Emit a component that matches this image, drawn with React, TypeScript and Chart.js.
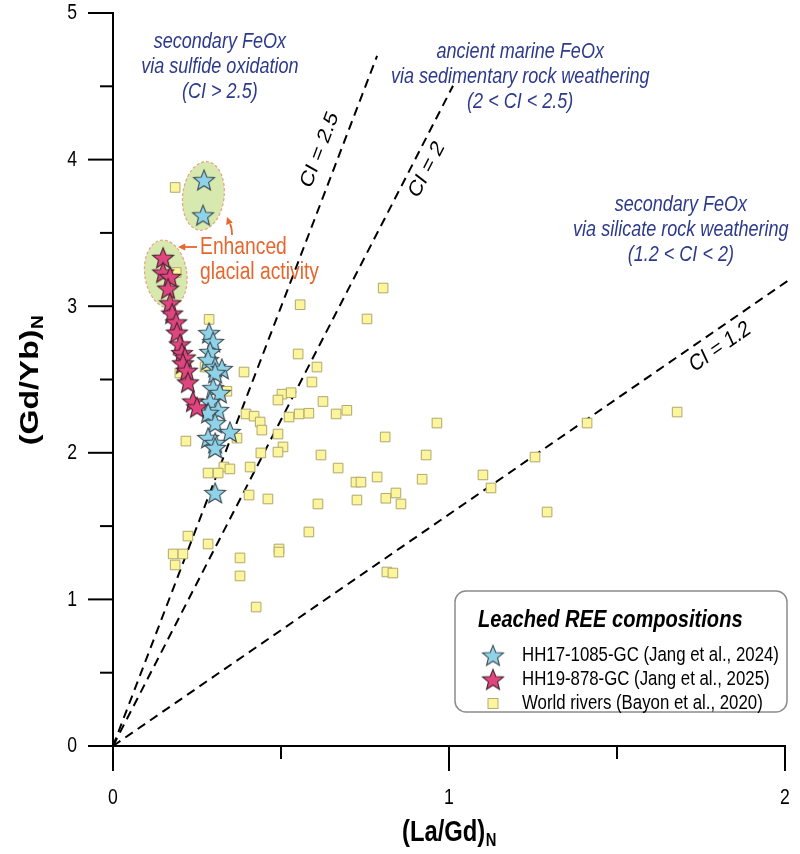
import React, { useEffect, useRef } from 'react';
import { Chart, registerables } from 'chart.js';

Chart.register(...registerables);

// ---------- data ----------
const hh17LaGd = [0.271, 0.268, 0.286, 0.298, 0.289, 0.283, 0.304, 0.324, 0.304, 0.298, 0.318, 0.289, 0.313, 0.283, 0.304, 0.348, 0.283, 0.304, 0.304, 0.304];
const hh17GdYb = [3.86, 3.62, 2.817, 2.756, 2.688, 2.633, 2.585, 2.572, 2.544, 2.442, 2.408, 2.347, 2.292, 2.272, 2.203, 2.142, 2.101, 2.067, 2.033, 1.726];

const hh19LaGd = [0.149, 0.149, 0.170, 0.164, 0.170, 0.176, 0.188, 0.190, 0.199, 0.205, 0.214, 0.208, 0.220, 0.223, 0.238, 0.250];
const hh19GdYb = [3.33, 3.23, 3.20, 3.12, 3.02, 2.95, 2.89, 2.82, 2.74, 2.68, 2.65, 2.61, 2.56, 2.48, 2.35, 2.31];

const riversLaGd = [
  0.185, 0.188, 0.557, 0.286, 0.551, 0.607, 0.390, 0.592, 0.199, 0.274,
  0.339, 0.503, 0.530, 0.491, 0.625, 0.396, 0.420, 0.524, 0.554, 0.583,
  0.664, 0.696, 0.438, 0.443, 0.491, 0.217, 0.369, 0.440, 0.506, 0.491,
  0.619, 0.330, 0.348, 0.408, 0.670, 0.283, 0.313, 0.723, 0.405, 0.461,
  0.610, 0.726, 0.223, 0.283, 0.179, 0.208, 0.185, 0.378, 0.378, 0.494,
  0.494, 0.583, 0.426, 0.804, 0.756, 0.964, 0.810, 1.411, 0.932, 0.738,
  0.786, 0.920, 0.842, 0.812, 0.857, 1.101, 1.125, 1.256, 1.292, 0.815,
  0.833, 1.679,
];
const riversGdYb = [
  3.81, 3.23, 3.01, 2.91, 2.674, 2.585, 2.551, 2.483, 2.544, 2.585,
  2.42, 2.40, 2.41, 2.36, 2.35, 2.265, 2.25, 2.244, 2.265, 2.27,
  2.265, 2.29, 2.21, 2.155, 2.128, 2.08, 2.10, 1.999, 2.04, 2.005,
  1.985, 1.903, 1.89, 1.903, 1.896, 1.862, 1.862, 1.80, 1.712, 1.685,
  1.651, 1.678, 1.432, 1.378, 1.31, 1.31, 1.235, 1.283, 1.16, 1.344,
  1.323, 1.46, 0.948, 3.124, 2.913, 2.203, 2.108, 2.203, 1.985, 1.80,
  1.835, 1.82, 1.726, 1.69, 1.651, 1.849, 1.76, 1.971, 1.596, 1.187,
  1.18, 2.278,
];

// CI reference lines through the origin
const ciLabels = ['CI = 2.5', 'CI = 2', 'CI = 1.2'];
const ciSlopes = [5.99, 4.45, 1.58];
const ciEndX = [0.786, 1.012, 2.02];
const ciLabelX = [0.616, 0.934, 1.807];
const ciLabelY = [4.066, 3.93, 2.72];

const xTickLabels = [0, 1, 2];
const yTickLabels = [0, 1, 2, 3, 4, 5];

const legendTitle = 'Leached REE compositions';
const legendLabels = [
  'HH17-1085-GC (Jang et al., 2024)',
  'HH19-878-GC (Jang et al., 2025)',
  'World rivers (Bayon et al., 2020)',
];

// field annotations (centre x, first line y in data units)
const fieldLines = [
  ['secondary FeOx', 'via sulfide oxidation', '(CI > 2.5)'],
  ['ancient marine FeOx', 'via sedimentary rock weathering', '(2 < CI < 2.5)'],
  ['secondary FeOx', 'via silicate rock weathering', '(1.2 < CI < 2)'],
];
const fieldX = [0.318, 1.212, 1.69];
const fieldY = [4.80, 4.735, 3.69];

// highlighted ellipses
const ellCx = [0.269, 0.157];
const ellCy = [3.752, 3.22];
const ellRx = [0.0616, 0.0625];
const ellRy = [0.235, 0.232];
const ellRot = [7, -8];

const glacialLines = ['Enhanced', 'glacial activity'];
const glacialX = 0.259;
const glacialY = 3.397;

// ---------- helpers ----------
const FONT = '"Liberation Sans", Arial, Helvetica, sans-serif';
const NAVY = '#2d3a8c';
const ORANGE = '#e5672d';
const SQ = 0.82; // horizontal condensation of the original figure's lettering

function makeStar(fill: string, stroke: string, R: number, r: number) {
  const size = Math.ceil(2 * R + 4);
  const c = document.createElement('canvas');
  c.width = size;
  c.height = size;
  const g = c.getContext('2d')!;
  g.translate(size / 2, size / 2 + R * 0.08);
  g.beginPath();
  for (let i = 0; i < 10; i++) {
    const a = -Math.PI / 2 + (i * Math.PI) / 5;
    const rad = i % 2 ? r : R;
    g.lineTo(rad * Math.cos(a), rad * Math.sin(a));
  }
  g.closePath();
  g.fillStyle = fill;
  g.fill();
  g.lineWidth = 1.1;
  g.strokeStyle = stroke;
  g.stroke();
  return c;
}

// screen angle -> angle inside the condensed frame
const frameAngle = (a: number) => Math.atan2(Math.sin(a), Math.cos(a) / SQ);

function txt(
  ctx: CanvasRenderingContext2D,
  s: string,
  x: number,
  y: number,
  size: number,
  o: { weight?: string; style?: string; color?: string; align?: CanvasTextAlign; baseline?: CanvasTextBaseline; rot?: number } = {}
) {
  ctx.save();
  ctx.translate(x, y);
  ctx.scale(SQ, 1);
  if (o.rot) ctx.rotate(frameAngle(o.rot));
  ctx.font = `${o.style || 'normal'} ${o.weight || 'normal'} ${size}px ${FONT}`;
  ctx.fillStyle = o.color || '#000';
  ctx.textAlign = o.align || 'left';
  ctx.textBaseline = o.baseline || 'middle';
  ctx.fillText(s, 0, 0);
  ctx.restore();
}

function subLabel(ctx: CanvasRenderingContext2D, main: string, sub: string, cx: number, cy: number, rot: number, size: number, subSize: number) {
  ctx.save();
  ctx.translate(cx, cy);
  ctx.scale(SQ, 1);
  ctx.rotate(frameAngle(rot));
  ctx.fillStyle = '#000';
  ctx.textBaseline = 'alphabetic';
  ctx.textAlign = 'left';
  const f1 = `bold ${size}px ${FONT}`;
  const f2 = `bold ${subSize}px ${FONT}`;
  ctx.font = f1;
  const w1 = ctx.measureText(main).width;
  ctx.font = f2;
  const w2 = ctx.measureText(sub).width;
  const x0 = -(w1 + w2) / 2;
  ctx.font = f1;
  ctx.fillText(main, x0, 0);
  ctx.font = f2;
  ctx.fillText(sub, x0 + w1 + 0.5, subSize * 0.3);
  ctx.restore();
}

function arrowHead(ctx: CanvasRenderingContext2D, x: number, y: number, ang: number, len: number) {
  ctx.beginPath();
  ctx.moveTo(x, y);
  ctx.lineTo(x - len * Math.cos(ang - 0.45), y - len * Math.sin(ang - 0.45));
  ctx.lineTo(x - len * Math.cos(ang + 0.45), y - len * Math.sin(ang + 0.45));
  ctx.closePath();
  ctx.fill();
}

export default function App() {
  const ref = useRef<HTMLCanvasElement>(null);

  useEffect(() => {
    const canvas = ref.current!;
    const blueStar = makeStar('#8fd3e8', '#3f4c55', 11, 4.8);
    const pinkStar = makeStar('#e0457f', '#45242f', 11, 4.8);
    const mk = (xs: number[], ys: number[]) => xs.map((x, i) => ({ x, y: ys[i] }));

    const bgPlugin = {
      id: 'bg',
      beforeDraw(chart: any) {
        const ctx = chart.ctx;
        ctx.save();
        ctx.fillStyle = '#fff';
        ctx.fillRect(0, 0, chart.width, chart.height);
        ctx.restore();
      },
    };

    const ellipsePlugin = {
      id: 'ellipses',
      beforeDatasetsDraw(chart: any) {
        const ctx = chart.ctx;
        const sx = chart.scales.x;
        const sy = chart.scales.y;
        ctx.save();
        for (let i = 0; i < ellCx.length; i++) {
          const px = sx.getPixelForValue(ellCx[i]);
          const py = sy.getPixelForValue(ellCy[i]);
          const rx = Math.abs(sx.getPixelForValue(ellCx[i] + ellRx[i]) - px);
          const ry = Math.abs(sy.getPixelForValue(ellCy[i] + ellRy[i]) - py);
          ctx.beginPath();
          ctx.ellipse(px, py, rx, ry, (ellRot[i] * Math.PI) / 180, 0, Math.PI * 2);
          ctx.fillStyle = '#d7e9ae';
          ctx.fill();
          ctx.setLineDash([3, 2]);
          ctx.lineWidth = 1.2;
          ctx.strokeStyle = '#e8a27c';
          ctx.stroke();
        }
        ctx.restore();
      },
    };

    const overlayPlugin = {
      id: 'overlay',
      afterDraw(chart: any) {
        const ctx: CanvasRenderingContext2D = chart.ctx;
        const sx = chart.scales.x;
        const sy = chart.scales.y;
        const L = sx.getPixelForValue(0);
        const R = sx.getPixelForValue(2);
        const B = sy.getPixelForValue(0);
        const T = sy.getPixelForValue(5);
        ctx.save();
        // axes
        ctx.strokeStyle = '#000';
        ctx.lineWidth = 2;
        ctx.lineCap = 'butt';
        ctx.beginPath();
        ctx.moveTo(L, T - 1);
        ctx.lineTo(L, B);
        ctx.lineTo(R + 1, B);
        ctx.stroke();
        sy.ticks.forEach((t: any) => {
          const py = sy.getPixelForValue(t.value);
          const len = Number.isInteger(t.value) ? 25 : 13;
          ctx.beginPath();
          ctx.moveTo(L - len, py);
          ctx.lineTo(L, py);
          ctx.stroke();
        });
        sx.ticks.forEach((t: any) => {
          const px = sx.getPixelForValue(t.value);
          const len = Number.isInteger(t.value) ? 25 : 13;
          ctx.beginPath();
          ctx.moveTo(px, B);
          ctx.lineTo(px, B + len);
          ctx.stroke();
        });
        // tick labels
        yTickLabels.forEach((v) => {
          txt(ctx, String(v), L - 36, sy.getPixelForValue(v) + 0.5, 21.5, { align: 'right' });
        });
        xTickLabels.forEach((v) => {
          txt(ctx, String(v), sx.getPixelForValue(v), B + 52, 21.5, { align: 'center' });
        });
        // axis titles
        subLabel(ctx, '(La/Gd)', 'N', sx.getPixelForValue(1), B + 95, 0, 29, 18);
        subLabel(ctx, '(Gd/Yb)', 'N', 38, (T + B) / 2 + 1, -Math.PI / 2, 32, 19);

        // CI line labels
        const ppx = Math.abs(sx.getPixelForValue(1) - sx.getPixelForValue(0));
        const ppy = Math.abs(sy.getPixelForValue(1) - sy.getPixelForValue(0));
        ciLabels.forEach((s, i) => {
          const ang = -Math.atan2(ciSlopes[i] * ppy, ppx);
          txt(ctx, s, sx.getPixelForValue(ciLabelX[i]), sy.getPixelForValue(ciLabelY[i]), 23, { align: 'center', rot: ang });
        });

        // field annotations
        fieldLines.forEach((lines, i) => {
          const cx = sx.getPixelForValue(fieldX[i]);
          const cy = sy.getPixelForValue(fieldY[i]);
          lines.forEach((s, j) => txt(ctx, s, cx, cy + j * 25, 22, { style: 'italic', color: NAVY, align: 'center' }));
        });

        // glacial annotation
        const gx = sx.getPixelForValue(glacialX);
        const gy = sy.getPixelForValue(glacialY);
        glacialLines.forEach((s, j) => txt(ctx, s, gx, gy + j * 25, 23.5, { color: ORANGE }));
        ctx.strokeStyle = ORANGE;
        ctx.fillStyle = ORANGE;
        ctx.lineWidth = 1.8;
        ctx.beginPath();
        ctx.moveTo(gx - 3, gy - 1);
        ctx.lineTo(gx - 15, gy - 1);
        ctx.stroke();
        arrowHead(ctx, gx - 22, gy - 1, Math.PI, 8);
        ctx.beginPath();
        ctx.moveTo(gx + 32, gy - 13);
        ctx.quadraticCurveTo(gx + 32, gy - 20, gx + 30, gy - 24);
        ctx.stroke();
        arrowHead(ctx, gx + 27, gy - 31, -Math.PI / 2 - 0.35, 8);

        // legend
        const lx = 455, ly = 591, lw = 332, lh = 121;
        ctx.beginPath();
        ctx.roundRect(lx, ly, lw, lh, 11);
        ctx.fillStyle = '#fff';
        ctx.fill();
        ctx.lineWidth = 1.5;
        ctx.strokeStyle = '#8c8c8c';
        ctx.stroke();
        txt(ctx, legendTitle, lx + 23, ly + 29, 24.5, { weight: 'bold', style: 'italic' });
        const rowY = [ly + 64.5, ly + 88.5, ly + 112.5];
        const icons = [blueStar, pinkStar];
        icons.forEach((ic, i) => {
          ctx.drawImage(ic, lx + 38 - ic.width / 2, rowY[i] - ic.height / 2);
        });
        ctx.fillStyle = '#fdf59c';
        ctx.strokeStyle = '#b4ad74';
        ctx.lineWidth = 1;
        ctx.fillRect(lx + 33, rowY[2] - 5, 10, 10);
        ctx.strokeRect(lx + 33, rowY[2] - 5, 10, 10);
        legendLabels.forEach((s, i) => txt(ctx, s, lx + 67, rowY[i], 20.5));
        ctx.restore();
      },
    };

    const chart = new Chart(canvas, {
      type: 'scatter',
      data: {
        datasets: [
          {
            label: legendLabels[1],
            data: mk(hh19LaGd, hh19GdYb),
            pointStyle: pinkStar as any,
            pointRadius: 10,
            order: 1,
          },
          {
            label: legendLabels[0],
            data: mk(hh17LaGd, hh17GdYb),
            pointStyle: blueStar as any,
            pointRadius: 10,
            order: 2,
          },
          {
            label: legendLabels[2],
            data: mk(riversLaGd, riversGdYb),
            pointStyle: 'rect',
            pointRadius: 6.8,
            backgroundColor: '#fdf59c',
            borderColor: '#aea86e',
            borderWidth: 1,
            order: 3,
          },
          ...ciSlopes.map((s, i) => ({
            type: 'scatter' as const,
            label: ciLabels[i],
            data: [
              { x: 0, y: 0 },
              { x: ciEndX[i], y: s * ciEndX[i] },
            ],
            showLine: true,
            pointRadius: 0,
            borderColor: '#000',
            borderWidth: 2,
            borderDash: [9, 6],
            clip: false as any,
            order: 4,
          })),
        ],
      },
      options: {
        responsive: false,
        animation: false,
        events: [],
        layout: { padding: { left: 0, right: 15, top: 13, bottom: 0 } },
        plugins: { legend: { display: false }, tooltip: { enabled: false } },
        scales: {
          x: {
            type: 'linear',
            min: 0,
            max: 2,
            ticks: { display: false, stepSize: 0.5 },
            grid: { display: false, drawTicks: false },
            border: { display: false },
            afterFit: (s: any) => {
              s.height = 108;
            },
          },
          y: {
            type: 'linear',
            min: 0,
            max: 5,
            ticks: { display: false, stepSize: 0.5 },
            grid: { display: false, drawTicks: false },
            border: { display: false },
            afterFit: (s: any) => {
              s.width = 113;
            },
          },
        },
      },
      plugins: [bgPlugin, ellipsePlugin, overlayPlugin],
    });
    return () => chart.destroy();
  }, []);

  return (
    <div style={{ position: 'absolute', left: 0, top: 0, width: 800, height: 854, background: '#fff' }}>
      <canvas ref={ref} width={800} height={854} style={{ width: '800px', height: '854px', display: 'block' }} />
    </div>
  );
}
